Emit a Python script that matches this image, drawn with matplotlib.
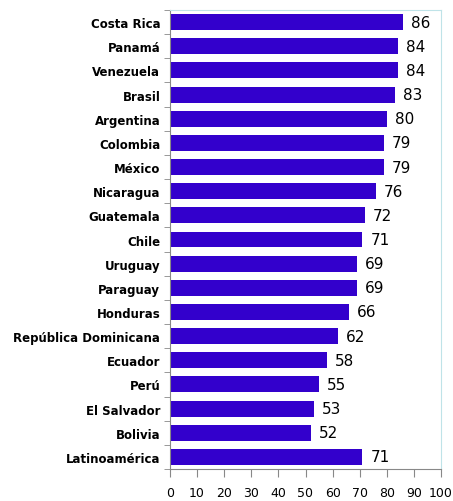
import numpy as np
import matplotlib.pyplot as plt

paises = ['Costa Rica', 'Panamá', 'Venezuela', 'Brasil', 'Argentina', 'Colombia',
          'México', 'Nicaragua', 'Guatemala', 'Chile', 'Uruguay', 'Paraguay',
          'Honduras', 'República Dominicana', 'Ecuador', 'Perú', 'El Salvador',
          'Bolivia', 'Latinoamérica']
valores = [86, 84, 84, 83, 80, 79, 79, 76, 72, 71, 69, 69, 66, 62, 58, 55, 53, 52, 71]
xticks = list(range(0, 101, 10))

fig = plt.figure(figsize=(4.53, 5.02), dpi=100)
ax = fig.add_axes([170/453, 1 - 470/502, 271/453, 459/502])

y = np.arange(len(paises))
ax.barh(y, valores, height=0.66, color='#3300CC')
for yi, v in zip(y, valores):
    ax.text(v + 3, yi, str(v), va='center', ha='left', fontsize=11, color='black')

ax.set_ylim(len(paises) - 0.5, -0.5)
ax.set_xlim(0, 100)
ax.set_yticks(y)
ax.set_yticklabels(paises, fontsize=8.5, fontweight='bold')
ax.set_yticks(np.arange(-0.5, len(paises), 1), minor=True)
ax.tick_params(axis='y', which='major', length=0, pad=7)
ax.tick_params(axis='y', which='minor', length=4, color='#888888')
ax.set_xticks(xticks)
ax.set_xticklabels([str(t) for t in xticks], fontsize=9)
ax.tick_params(axis='x', length=6, color='#888888', pad=6)

ax.spines['left'].set_color('#888888')
ax.spines['bottom'].set_color('#888888')
ax.spines['top'].set_color('#bfe3e8')
ax.spines['right'].set_color('#bfe3e8')

fig.savefig('out.png', dpi=100)
